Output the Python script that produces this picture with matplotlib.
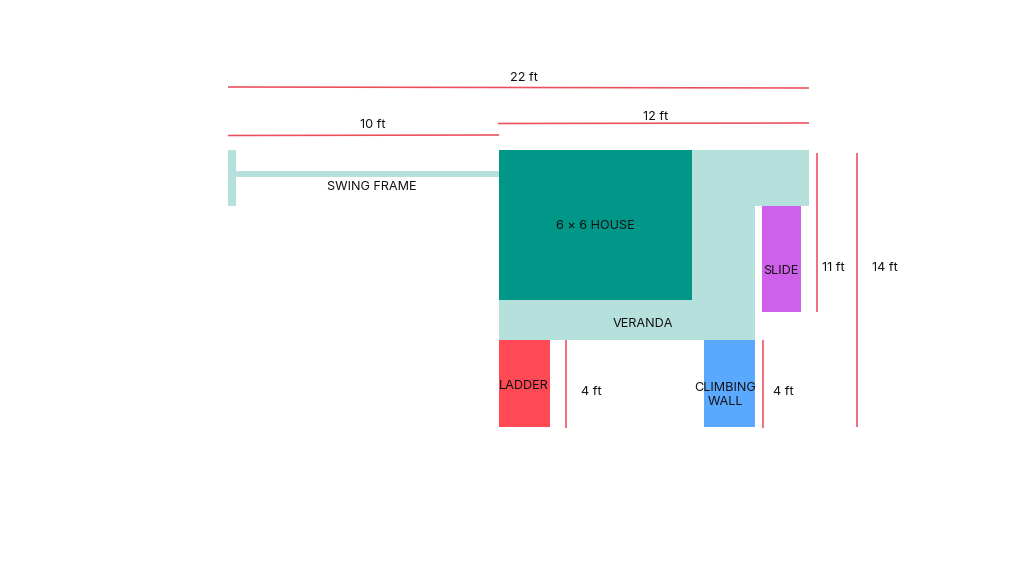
import matplotlib
matplotlib.use('Agg')
import matplotlib.pyplot as plt
from matplotlib.patches import Rectangle

plt.rcParams['font.family'] = ['Inter', 'DejaVu Sans']

# blocks, in picture pixels: left, top, right, bottom
frame_blocks = [(228, 150, 236, 206), (236, 171, 499, 177)]
veranda_blocks = [(692, 150, 809, 206), (692, 206, 755, 340), (499, 300, 755, 340)]
house = (499, 150, 692, 300)
slide = (762, 206, 801, 312)
ladder = (499, 340, 550, 427)
wall = (704, 340, 755, 427)

# measuring lines: x0, y0, x1, y1
dim_lines = [
    (228, 87, 809, 88),
    (498, 123.5, 809, 123),
    (228, 135.5, 499, 135),
    (817, 153, 817, 312),
    (857, 153, 857, 427),
    (566, 340, 566, 428),
    (763, 340, 763, 428),
]

# x, y, text
labels = [
    (524, 78, '22 ft'),
    (656, 117, '12 ft'),
    (373, 125, '10 ft'),
    (372, 187, 'SWING FRAME'),
    (595, 226, '6 × 6 HOUSE'),
    (781, 271, 'SLIDE'),
    (643, 324, 'VERANDA'),
    (524, 386, 'LADDER'),
    (725, 395, 'CLIMBING\nWALL'),
    (833, 268, '11 ft'),
    (885, 268, '14 ft'),
    (591, 392, '4 ft'),
    (783, 392, '4 ft'),
]

LIGHT = '#b5e0dc'
LINE = '#ec4f5c'


def block(ax, b, color):
    ax.add_patch(Rectangle((b[0], b[1]), b[2] - b[0], b[3] - b[1], fc=color, ec='none'))


fig = plt.figure(figsize=(10.24, 5.76), dpi=100)
ax = fig.add_axes([0, 0, 1, 1])
ax.set_xlim(0, 1024)
ax.set_ylim(576, 0)
ax.axis('off')

for b in frame_blocks + veranda_blocks:
    block(ax, b, LIGHT)
block(ax, house, '#009688')
block(ax, slide, '#cf60ea')
block(ax, ladder, '#ff4a55')
block(ax, wall, '#5aa9ff')

for x0, y0, x1, y1 in dim_lines:
    ax.plot([x0, x1], [y0, y1], color=LINE, lw=1.15, solid_capstyle='butt')

for x, y, s in labels:
    ax.text(x, y, s, ha='center', va='center', fontsize=9.1, color='#111111', linespacing=1.3)

fig.savefig('out.png', dpi=100)
